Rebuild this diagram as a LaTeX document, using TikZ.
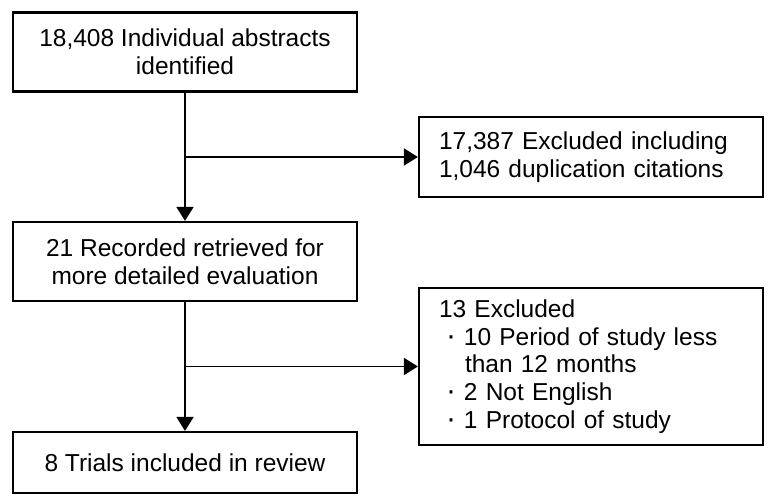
\documentclass[tikz,border=0pt]{standalone}
\usepackage{fontspec}
\setmainfont{Liberation Sans}
\usetikzlibrary{arrows.meta}
\newcommand{\mybul}{\hspace*{7pt}{\fontsize{30pt}{27.6pt}\selectfont ·}\hspace{8pt}}
\begin{document}
\begin{tikzpicture}[x=1pt,y=1pt,
  box/.style={draw=black, line width=2.2pt, minimum width=344pt, inner sep=0pt,
    font=\fontsize{24.5pt}{27.6pt}\selectfont, text=black},
  cbox/.style={box, align=center},
  lbox/.style={box, align=left, text width=304pt},
  arr/.style={line width=1.8pt, -{Triangle[width=17pt,length=14pt]}},
  ln/.style={line width=1.8pt}]
\useasboundingbox (0,0) rectangle (770,-500);
\node[cbox, minimum height=79pt] (a) at (185,-52) {18,408 Individual abstracts\\identified};
\node[lbox, minimum height=80pt] (b) at (591,-157) {17,387 Excluded including\\1,046 duplication citations};
\node[cbox, minimum height=79pt] (c) at (185,-261.5) {21 Recorded retrieved for\\more detailed evaluation};
\node[lbox, minimum height=157pt] (d) at (591,-366.5) {13 Excluded\\\mybul 10 Period of study less\\\hspace*{26pt}than 12 months\\\mybul 2 Not English\\\mybul 1 Protocol of study};
\node[cbox, minimum height=61pt] (e) at (185,-462.5) {8 Trials included in review};
\draw[arr] (a.south) -- (c.north);
\draw[arr] (c.south) -- (e.north);
\coordinate (b1) at (a.south |- b.west);
\coordinate (b2) at (c.south |- d.west);
\draw[arr] (b1) -- (b.west);
\draw[arr] (b2) -- (d.west);
\end{tikzpicture}
\end{document}
